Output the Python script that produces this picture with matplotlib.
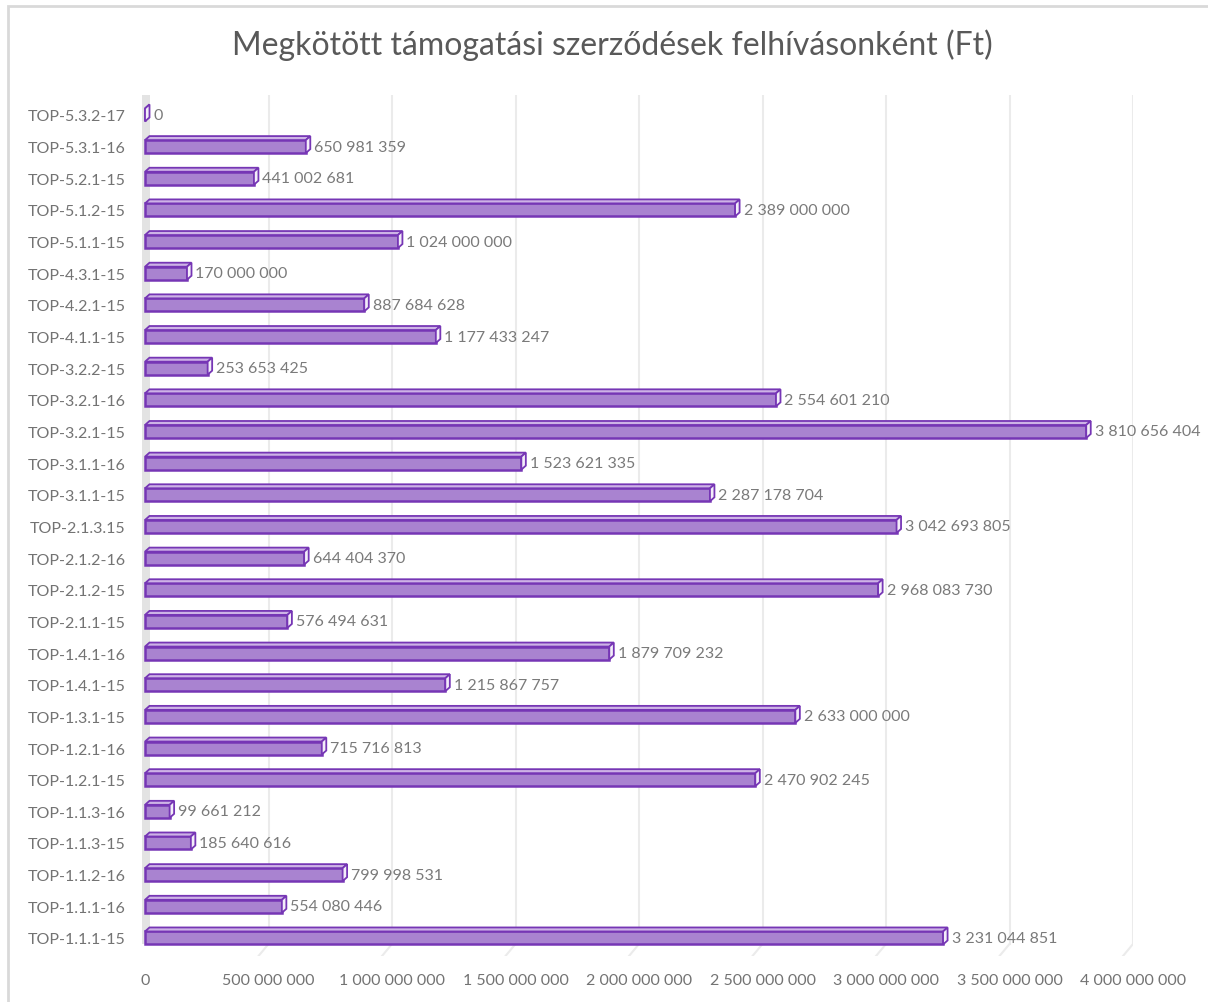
import matplotlib.pyplot as plt
from matplotlib.patches import Polygon, Rectangle
from matplotlib.lines import Line2D

plt.rcParams['font.family'] = ['Lato', 'DejaVu Sans']

categories = [
    "TOP-1.1.1-15", "TOP-1.1.1-16", "TOP-1.1.2-16", "TOP-1.1.3-15", "TOP-1.1.3-16",
    "TOP-1.2.1-15", "TOP-1.2.1-16", "TOP-1.3.1-15", "TOP-1.4.1-15", "TOP-1.4.1-16",
    "TOP-2.1.1-15", "TOP-2.1.2-15", "TOP-2.1.2-16", "TOP-2.1.3.15", "TOP-3.1.1-15",
    "TOP-3.1.1-16", "TOP-3.2.1-15", "TOP-3.2.1-16", "TOP-3.2.2-15", "TOP-4.1.1-15",
    "TOP-4.2.1-15", "TOP-4.3.1-15", "TOP-5.1.1-15", "TOP-5.1.2-15", "TOP-5.2.1-15",
    "TOP-5.3.1-16", "TOP-5.3.2-17",
]
values = [
    3231044851, 554080446, 799998531, 185640616, 99661212,
    2470902245, 715716813, 2633000000, 1215867757, 1879709232,
    576494631, 2968083730, 644404370, 3042693805, 2287178704,
    1523621335, 3810656404, 2554601210, 253653425, 1177433247,
    887684628, 170000000, 1024000000, 2389000000, 441002681,
    650981359, 0,
]
xticks = [0, 500000000, 1000000000, 1500000000, 2000000000,
          2500000000, 3000000000, 3500000000, 4000000000]
title = "Megkötött támogatási szerződések felhívásonként (Ft)"


def fmt(v):
    return f"{v:,}".replace(",", " ")


W, H = 1208, 1003
fig = plt.figure(figsize=(W / 100, H / 100), dpi=100)

# chart frame
fig.patches.append(Rectangle((8 / W, -0.1), 1.2, (H - 7) / H + 0.1,
                             transform=fig.transFigure, fill=False,
                             edgecolor='#d9d9d9', linewidth=2))

ax_l, ax_r, ax_t, ax_b = 145, 1133, 96, 957
ax = fig.add_axes([ax_l / W, (H - ax_b) / H, (ax_r - ax_l) / W, (ax_b - ax_t) / H])
xmax = 4000000000
ax.set_xlim(0, xmax)
ax.set_ylim(-0.57, len(categories) - 1 + 0.63)

px_x = xmax / (ax_r - ax_l)          # data units per pixel (x)
px_y = (len(categories) - 1 + 1.2) / (ax_b - ax_t)  # data units per pixel (y)
dx = 4.5 * px_x
dy = 4 * px_y
h = 13 * px_y

# back wall gridlines with a short diagonal floor segment
trans = ax.get_xaxis_transform()
floor = 1 - (945 - ax_t) / (ax_b - ax_t)
for t in xticks[1:]:
    ax.add_line(Line2D([t, t], [floor, 1], transform=trans, color='#ebebeb',
                       linewidth=1.5, zorder=0))
    ax.add_line(Line2D([t, t - 10 * px_x], [floor, 0], transform=trans,
                       color='#ebebeb', linewidth=1.5, zorder=0))
# left side wall
ax.add_patch(Rectangle((-3 * px_x, floor), 8 * px_x, 1 - floor, transform=trans,
                       facecolor='#e3e3e3', edgecolor='none', zorder=0, clip_on=False))

edge = '#7636b5'
for i, v in enumerate(values):
    y0 = i - h / 2
    y1 = i + h / 2
    ax.add_patch(Rectangle((0, y0), v, h, facecolor='#a983d0', edgecolor=edge,
                           linewidth=1.8, zorder=3, clip_on=False))
    ax.add_patch(Polygon([(0, y1), (v, y1), (v + dx, y1 + dy), (dx, y1 + dy)],
                         closed=True, facecolor='#cdb3e6', edgecolor=edge,
                         linewidth=1.3, zorder=3, clip_on=False))
    ax.add_patch(Polygon([(v, y0), (v + dx, y0 + dy), (v + dx, y1 + dy), (v, y1)],
                         closed=True, facecolor='#f3edf9', edgecolor=edge,
                         linewidth=1.3, zorder=3, clip_on=False))
    ax.text(v + dx + 4 * px_x, i, fmt(v), ha='left', va='center',
            fontsize=11.5, color='#7a7a7a', zorder=4, clip_on=False)

ax.set_yticks(range(len(categories)))
ax.set_yticklabels(categories)
ax.set_xticks(xticks)
ax.set_xticklabels([fmt(t) for t in xticks])
ax.tick_params(axis='y', length=0, pad=14, labelsize=11.5, labelcolor='#737373')
ax.tick_params(axis='x', length=0, pad=12, labelsize=11.5, labelcolor='#737373')
for s in ax.spines.values():
    s.set_visible(False)
ax.patch.set_alpha(0)

fig.text(612 / W, 1 - 45 / H, title, ha='center', va='center',
         fontsize=23, color='#595959')

fig.savefig('out.png', dpi=100)
